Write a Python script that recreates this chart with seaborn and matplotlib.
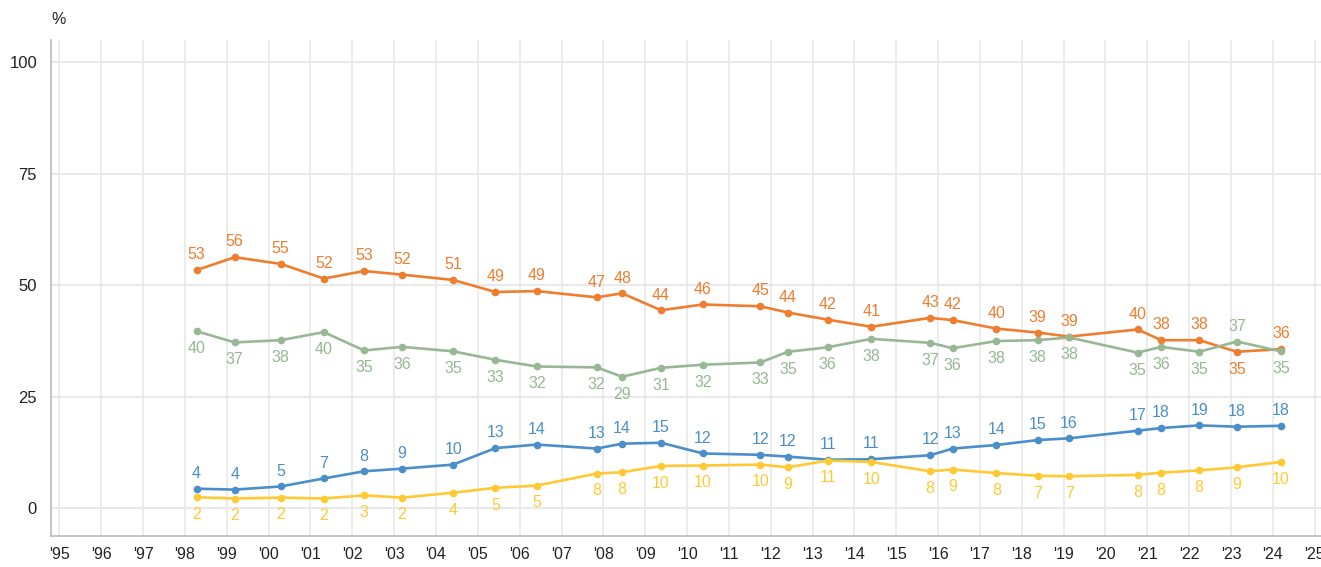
import pandas as pd
import numpy as np
import matplotlib.pyplot as plt
import seaborn as sns

# survey dates (fractional years) and shares in %
dates = [1998.28, 1999.19, 2000.29, 2001.32, 2002.28, 2003.19, 2004.41, 2005.42, 2006.41,
         2007.84, 2008.45, 2009.38, 2010.38, 2011.75, 2012.41, 2013.36, 2014.40, 2015.81,
         2016.35, 2017.39, 2018.38, 2019.13, 2020.77, 2021.33, 2022.24, 2023.14, 2024.19]

orange = [53.4, 56.3, 54.8, 51.5, 53.2, 52.4, 51.2, 48.5, 48.7, 47.3, 48.2, 44.4, 45.7, 45.3,
          43.9, 42.3, 40.7, 42.7, 42.2, 40.3, 39.4, 38.5, 40.1, 37.7, 37.7, 35.1, 35.7]
orange_lbl = [53, 56, 55, 52, 53, 52, 51, 49, 49, 47, 48, 44, 46, 45, 44, 42, 41, 43, 42, 40,
              39, 39, 40, 38, 38, 35, 36]

green = [39.7, 37.2, 37.7, 39.5, 35.4, 36.2, 35.2, 33.3, 31.8, 31.6, 29.5, 31.5, 32.2, 32.7,
         35.1, 36.1, 38.0, 37.1, 35.9, 37.5, 37.7, 38.3, 34.9, 36.2, 35.1, 37.4, 35.2]
green_lbl = [40, 37, 38, 40, 35, 36, 35, 33, 32, 32, 29, 31, 32, 33, 35, 36, 38, 37, 36, 38,
             38, 38, 35, 36, 35, 37, 35]

blue = [4.4, 4.2, 4.9, 6.7, 8.3, 8.9, 9.8, 13.5, 14.3, 13.4, 14.5, 14.7, 12.3, 12.0, 11.6,
        10.9, 11.0, 11.9, 13.4, 14.2, 15.3, 15.7, 17.4, 18.0, 18.6, 18.3, 18.5]
blue_lbl = [4, 4, 5, 7, 8, 9, 10, 13, 14, 13, 14, 15, 12, 12, 12, 11, 11, 12, 13, 14, 15, 16,
            17, 18, 19, 18, 18]

yellow = [2.5, 2.2, 2.4, 2.2, 2.9, 2.4, 3.5, 4.6, 5.1, 7.8, 8.1, 9.5, 9.6, 9.8, 9.2, 10.7,
          10.4, 8.3, 8.7, 7.9, 7.3, 7.2, 7.5, 8.0, 8.5, 9.2, 10.4]
yellow_lbl = [2, 2, 2, 2, 3, 2, 4, 5, 5, 8, 8, 10, 10, 10, 9, 11, 10, 8, 9, 8, 7, 7, 8, 8, 8,
              9, 10]

years = list(range(1995, 2026))
year_labels = ["'" + str(y)[2:] for y in years]
yticks = [0, 25, 50, 75, 100]

colors = {'orange': '#EE7D2F', 'green': '#97B795', 'blue': '#4A8FC9', 'yellow': '#FFC934'}

series = {'orange': (orange, orange_lbl), 'green': (green, green_lbl),
          'blue': (blue, blue_lbl), 'yellow': (yellow, yellow_lbl)}

rows = []
for name, (vals, lbls) in series.items():
    for d, v, l in zip(dates, vals, lbls):
        rows.append({'date': d, 'value': v, 'label': l, 'series': name})
df = pd.DataFrame(rows)

sns.set_theme(style="white")
plt.rcParams['font.family'] = ['Liberation Sans', 'DejaVu Sans']

fig = plt.figure(figsize=(13.21, 5.67), dpi=100)
ax = fig.add_axes([0.0386, 0.0547, 0.9614, 0.8748])

for x in years:
    ax.axvline(x, color='#e9e9e9', lw=1.2, zorder=0)
for y in yticks:
    ax.axhline(y, color='#e9e9e9', lw=1.5, zorder=0)

sns.lineplot(data=df, x='date', y='value', hue='series', palette=colors,
             marker='o', markersize=5.5, markeredgewidth=0, linewidth=1.9,
             legend=False, ax=ax, zorder=3)

# label placement: +1 above, -1 below
side = {'orange': 1, 'green': -1, 'blue': 1, 'yellow': -1}
flip = {('orange', 25), ('green', 25)}

for name, (vals, lbls) in series.items():
    for i, (d, v, l) in enumerate(zip(dates, vals, lbls)):
        s = side[name]
        if (name, i) in flip:
            s = -s
        off = 11 if s > 0 else 12.5
        ax.annotate(str(l), (d, v), xytext=(0, off * s), textcoords='offset points',
                    ha='center', va='center', fontsize=11.5, color=colors[name])

ax.set_xlim(1994.8, 2025.15)
ax.set_ylim(-6.2, 105)
ax.set_xticks(years)
ax.set_xticklabels(year_labels, fontsize=11.5, color='#222222')
ax.set_yticks(yticks)
ax.set_yticklabels([str(t) for t in yticks], fontsize=12, color='#222222')
ax.tick_params(axis='both', length=0)
ax.tick_params(axis='x', pad=8)
ax.tick_params(axis='y', pad=10)
ax.set_xlabel('')
ax.set_ylabel('')

for sp in ['top', 'right']:
    ax.spines[sp].set_visible(False)
for sp in ['left', 'bottom']:
    ax.spines[sp].set_color('#bbbbbb')
    ax.spines[sp].set_linewidth(1.2)

fig.text(0.044, 0.965, '%', ha='center', va='center', fontsize=11.5, color='#222222')

plt.savefig('out.png', dpi=100)
